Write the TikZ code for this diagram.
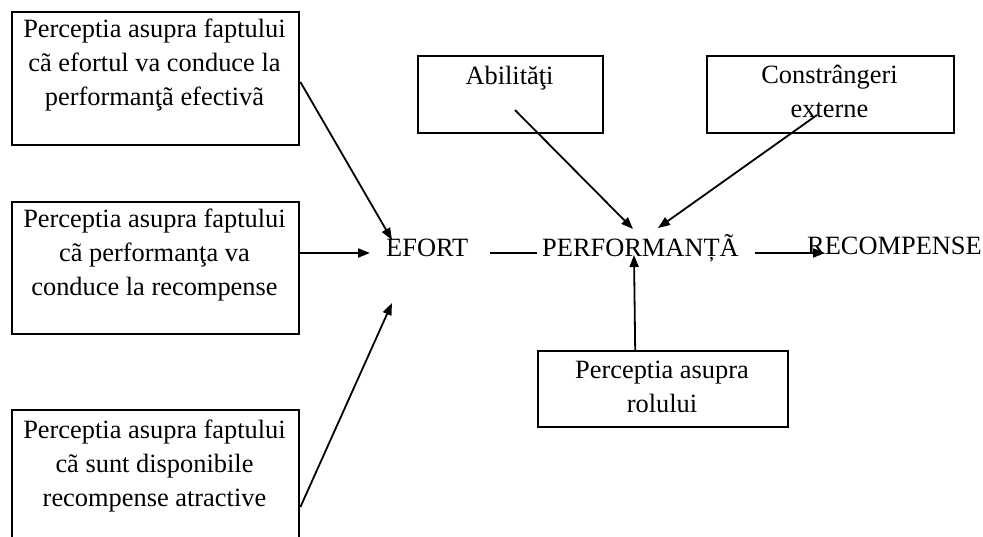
\documentclass[tikz,border=0pt]{standalone}
\usepackage{fontspec}
\setmainfont{Liberation Serif}
\usetikzlibrary{arrows.meta}
\begin{document}
\begin{tikzpicture}[x=1pt,y=-1pt,
  box/.style={draw, line width=2.4pt, inner sep=0pt, anchor=north west},
  txt/.style={font=\fontsize{26.4}{34}\selectfont, align=center, inner sep=0pt, anchor=base},
  lbl/.style={font=\fontsize{26.4}{34}\selectfont, inner sep=0pt, anchor=base west},
  conn/.style={line width=1.8pt, -{Triangle[length=12pt,width=9pt]}},
  plain/.style={line width=1.8pt}]
\useasboundingbox (0,0) rectangle (983,537);
\clip (0,0) rectangle (983,537);

% left column of perception boxes (text nodes sit on their last baseline)
\node[box, minimum width=287pt, minimum height=133pt] (b1) at (11,11) {};
\node[txt] (t1) at (154.5,106) {Perceptia asupra faptului\\cã efortul va conduce la\\performanţã efectivã};
\node[box, minimum width=287pt, minimum height=132pt] (b2) at (11,201) {};
\node[txt] (t2) at (154.5,296) {Perceptia asupra faptului\\cã performanţa va\\conduce la recompense};
\node[box, minimum width=287pt, minimum height=160pt] (b3) at (11,409) {};
\node[txt] (t3) at (154.5,506) {Perceptia asupra faptului\\cã sunt disponibile\\recompense atractive};

% upper and lower factor boxes
\node[box, minimum width=185pt, minimum height=77pt] (ab) at (417,55) {};
\node[txt] (tab) at (509.5,85) {Abilităţi};
\node[box, minimum width=247pt, minimum height=77pt] (cs) at (706,55) {};
\node[txt] (tcs) at (829.5,118) {Constrângeri\\externe};
\node[box, minimum width=250pt, minimum height=76pt] (pr) at (537,350) {};
\node[txt] (tpr) at (662,412) {Perceptia asupra\\rolului};

% main chain
\node[lbl] (ef) at (386,257) {EFORT};
\node[lbl] (pf) at (542,257) {PERFORMANȚÃ};
\node[lbl] (rc) at (807,255) {RECOMPENSE};

% arrow end points
\coordinate (ef1) at (392,240);
\coordinate (ef2) at (370,253);
\coordinate (ef3) at (392,303);
\coordinate (pf1) at (633,229);
\coordinate (pf2) at (658,228);
\coordinate (pf3) at (634,255);
\coordinate (l1a) at (490,253);
\coordinate (l1b) at (537,253);
\coordinate (l2a) at (755,253);
\coordinate (l2b) at (825,253);
\coordinate (abs) at (515,110);
\coordinate (css) at (817,115);

\draw[conn] ([yshift=-71pt]b1.north east) -- (ef1);
\draw[conn] ([yshift=-52pt]b2.north east) -- (ef2);
\draw[conn] ([yshift=-98pt]b3.north east) -- (ef3);
\draw[conn] (abs) -- (pf1);
\draw[conn] (css) -- (pf2);
\draw[conn] ([xshift=-28pt]pr.north) -- (pf3);
\draw[plain] (l1a) -- (l1b);
\draw[conn] (l2a) -- (l2b);
\end{tikzpicture}
\end{document}
